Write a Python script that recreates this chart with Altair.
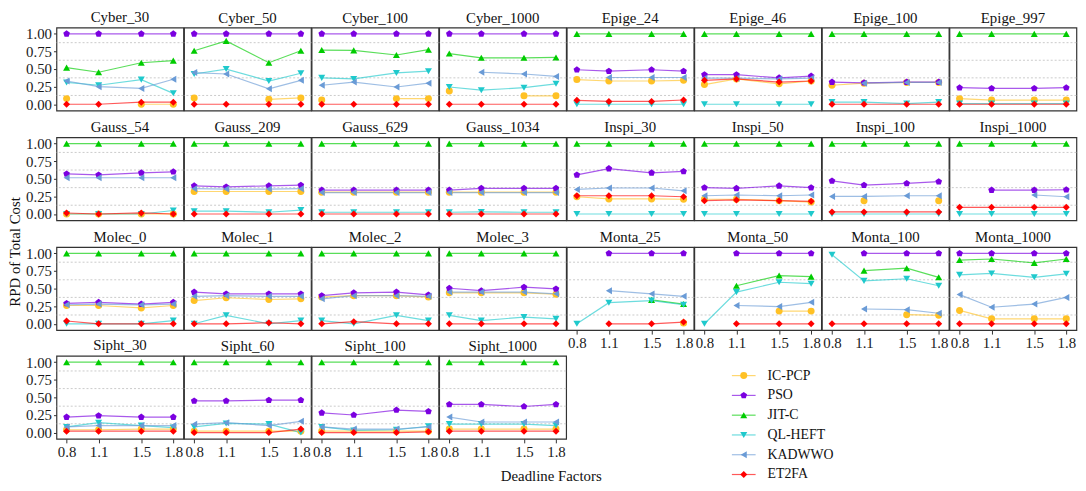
import altair as alt
import pandas as pd

FONT = "Liberation Serif"

panels = ["Cyber_30", "Cyber_50", "Cyber_100", "Cyber_1000",
          "Epige_24", "Epige_46", "Epige_100", "Epige_997",
          "Gauss_54", "Gauss_209", "Gauss_629", "Gauss_1034",
          "Inspi_30", "Inspi_50", "Inspi_100", "Inspi_1000",
          "Molec_0", "Molec_1", "Molec_2", "Molec_3",
          "Monta_25", "Monta_50", "Monta_100", "Monta_1000",
          "Sipht_30", "Sipht_60", "Sipht_100", "Sipht_1000"]
deadline = [0.8, 1.1, 1.5, 1.8]
series = ["IC-PCP", "PSO", "JIT-C", "QL-HEFT", "KADWWO", "ET2FA"]
colors = ["#FFC125", "#7B00E0", "#00CC00", "#1FC9CC", "#6A9BD6", "#FF0000"]
PENT = "M0,-1L0.951,-0.309L0.588,0.809L-0.588,0.809L-0.951,-0.309Z"
shapes = ["circle", PENT, "triangle-up", "triangle-down", "triangle-left", "diamond"]
y_ticks = [0.0, 0.25, 0.5, 0.75, 1.0]
grid_levels = [0.125, 0.375, 0.625, 0.875]

N = None
ic_pcp = [
    [0.08, N, 0.0, 0.0], [0.09, N, 0.07, 0.09], [0.06, N, 0.08, 0.08], [0.19, N, 0.12, 0.12],
    [0.35, 0.33, 0.33, 0.34], [0.28, 0.36, 0.29, 0.33], [0.27, 0.30, 0.31, 0.31], [0.08, 0.06, 0.06, 0.06],
    [0.0, 0.0, 0.0, 0.0], [0.32, 0.32, 0.32, 0.32], [0.31, 0.31, 0.31, 0.31], [0.31, 0.31, 0.31, 0.31],
    [0.245, 0.215, 0.215, 0.21], [0.21, 0.21, 0.19, 0.17], [N, 0.19, N, 0.19], [N, N, N, N],
    [0.26, 0.26, 0.225, 0.26], [0.33, 0.37, 0.345, 0.355], [0.38, 0.40, 0.40, 0.38], [0.44, 0.44, 0.44, 0.42],
    [N, N, N, 0.01], [N, N, 0.18, 0.18], [N, N, 0.13, 0.12], [0.19, 0.07, 0.07, 0.07],
    [0.04, 0.04, 0.05, 0.05], [0.02, 0.02, 0.02, 0.02], [0.02, 0.02, 0.02, 0.02], [0.05, 0.05, 0.05, 0.05],
]
pso = [
    [1, 1, 1, 1], [1, 1, 1, 1], [1, 1, 1, 1], [1, 1, 1, 1],
    [0.49, 0.47, 0.49, 0.47], [0.42, 0.42, 0.375, 0.40], [0.315, 0.305, 0.315, 0.315], [0.235, 0.225, 0.225, 0.235],
    [0.57, 0.555, 0.585, 0.60], [0.40, 0.385, 0.40, 0.41], [0.34, 0.34, 0.34, 0.34], [0.34, 0.365, 0.365, 0.365],
    [0.555, 0.645, 0.585, 0.605], [0.375, 0.365, 0.40, 0.375], [0.47, 0.41, 0.435, 0.46], [N, 0.34, 0.34, 0.345],
    [0.29, 0.305, 0.28, 0.305], [0.45, 0.425, 0.425, 0.425], [0.40, 0.44, 0.45, 0.41], [0.505, 0.47, 0.52, 0.495],
    [N, 1, 1, 1], [N, 1, 1, 1], [N, 1, 1, 1], [1, 1, 1, 1],
    [0.22, 0.24, 0.22, 0.22], [0.45, 0.45, 0.46, 0.46], [0.28, 0.25, 0.32, 0.30], [0.40, 0.40, 0.37, 0.40],
]
jit_c = [
    [0.52, 0.455, 0.59, 0.62], [0.76, 0.90, 0.59, 0.76], [0.77, 0.765, 0.70, 0.775], [0.72, 0.66, 0.66, 0.665],
    [1, 1, 1, 1], [1, 1, 1, 1], [1, 1, 1, 1], [1, 1, 1, 1],
    [1, 1, 1, 1], [1, 1, 1, 1], [1, 1, 1, 1], [1, 1, 1, 1],
    [1, 1, 1, 1], [1, 1, 1, 1], [1, 1, 1, 1], [1, 1, 1, 1],
    [1, 1, 1, 1], [1, 1, 1, 1], [1, 1, 1, 1], [1, 1, 1, 1],
    [N, N, 0.34, 0.28], [N, 0.54, 0.685, 0.67], [N, 0.755, 0.79, 0.66], [0.905, 0.92, 0.865, 0.92],
    [1, 1, 1, 1], [1, 1, 1, 1], [1, 1, 1, 1], [1, 1, 1, 1],
]
ql_heft = [
    [0.31, 0.27, 0.35, 0.155], [0.43, 0.50, 0.33, 0.44], [0.375, 0.36, 0.445, 0.47], [0.245, 0.20, 0.235, 0.29],
    [0.0, 0.0, 0.0, 0.0], [0.0, 0.0, 0.0, 0.0], [0.03, 0.03, 0.01, 0.03], [0.01, 0.01, 0.01, 0.01],
    [0.0, 0.0, 0.0, 0.05], [0.04, 0.04, 0.025, 0.055], [0.025, 0.025, 0.025, 0.025], [0.025, 0.03, 0.025, 0.025],
    [0.0, 0.0, 0.0, 0.0], [0.0, 0.0, 0.0, 0.0], [0.0, 0.0, 0.0, 0.0], [0.0, 0.0, 0.0, 0.0],
    [0.0, 0.0, 0.0, 0.045], [0.0, 0.12, 0.0, 0.045], [0.045, 0.0, 0.12, 0.045], [0.12, 0.045, 0.095, 0.07],
    [0.0, 0.30, 0.33, 0.27], [0.0, 0.45, 0.59, 0.57], [0.98, 0.61, 0.64, 0.54], [0.695, 0.715, 0.66, 0.71],
    [0.08, 0.14, 0.10, 0.07], [0.08, 0.13, 0.12, 0.0], [0.08, 0.03, 0.04, 0.09], [0.12, 0.12, 0.12, 0.10],
]
kadwwo = [
    [0.33, 0.25, 0.225, 0.355], [0.45, 0.43, 0.22, 0.34], [0.27, 0.315, 0.245, 0.30], [N, 0.455, 0.43, 0.395],
    [N, 0.38, 0.38, 0.38], [0.37, 0.37, 0.36, 0.37], [N, 0.30, 0.31, 0.31], [N, N, N, N],
    [0.515, 0.515, 0.515, 0.515], [0.36, 0.355, 0.355, 0.36], [0.305, 0.305, 0.305, 0.305], [0.305, 0.305, 0.305, 0.305],
    [0.35, 0.37, 0.37, 0.33], [0.26, 0.27, 0.26, 0.27], [0.25, 0.25, 0.26, 0.26], [N, N, 0.27, 0.245],
    [0.27, 0.28, 0.27, 0.28], [0.39, 0.40, 0.39, 0.39], [0.355, 0.40, 0.40, 0.39], [0.45, 0.45, 0.45, 0.425],
    [N, 0.47, 0.425, 0.39], [N, 0.26, 0.245, 0.305], [N, 0.21, 0.20, 0.15], [0.415, 0.235, 0.28, 0.375],
    [0.08, 0.10, 0.10, 0.10], [0.12, 0.14, 0.10, 0.16], [0.08, 0.05, 0.05, 0.08], [0.22, 0.15, 0.15, 0.15],
]
et2fa = [
    [0.0, 0.0, 0.03, 0.03], [0.0, 0.0, 0.0, 0.0], [0.0, 0.0, 0.0, 0.0], [0.0, 0.0, 0.0, 0.0],
    [0.056, 0.04, 0.04, 0.06], [0.34, 0.36, 0.315, 0.33], [0.0, 0.0, 0.0, 0.0], [0.0, 0.0, 0.0, 0.0],
    [0.015, 0.0, 0.015, 0.0], [0.0, 0.0, 0.0, 0.0], [0.0, 0.0, 0.0, 0.0], [0.0, 0.0, 0.0, 0.0],
    [0.26, 0.26, 0.26, 0.245], [0.19, 0.20, 0.19, 0.18], [0.03, 0.03, 0.03, 0.03], [0.095, 0.095, 0.095, 0.095],
    [0.04, 0.0, 0.0, 0.0], [0.0, 0.0, 0.015, 0.0], [0.0, 0.03, 0.0, 0.0], [0.0, 0.0, 0.0, 0.0],
    [N, 0.0, 0.0, 0.025], [N, 0.0, 0.0, 0.0], [0.0, 0.0, 0.0, 0.0], [0.0, 0.0, 0.0, 0.0],
    [0.02, 0.02, 0.02, 0.02], [0.0, 0.0, 0.0, 0.05], [0.0, 0.0, 0.0, 0.01], [0.02, 0.02, 0.02, 0.02],
]

values = {"IC-PCP": ic_pcp, "PSO": pso, "JIT-C": jit_c,
          "QL-HEFT": ql_heft, "KADWWO": kadwwo, "ET2FA": et2fa}

rows = []
for si, s in enumerate(series):
    for pi, p in enumerate(panels):
        for xi, x in enumerate(deadline):
            rows.append({"panel": p, "deadline": x, "series": s, "k": si,
                         "rpd": values[s][pi][xi]})
df = pd.DataFrame(rows)
grid_df = pd.DataFrame({"rpd": grid_levels})

color = alt.Color("series:N", scale=alt.Scale(domain=series, range=colors), legend=None)
shape = alt.Shape("series:N", scale=alt.Scale(domain=series, range=shapes), legend=None)
xs = alt.Scale(domain=[0.705, 1.895], nice=False, zero=False)
ys = alt.Scale(domain=[-0.09, 1.09], nice=False, zero=False)

PW, PH = 128.4, 84
RS = 5


def panel(name, show_y, show_x):
    d = df[df.panel == name]
    xax = alt.Axis(values=deadline, format=".1f", title=None, grid=False, domain=False,
                   tickSize=4, labelPadding=2, labelFlush=False, labelOverlap=False) if show_x else None
    yax = alt.Axis(values=y_ticks, format=".2f", title=None, grid=False, domain=False,
                   tickSize=3, labelPadding=2) if show_y else None
    X = alt.X("deadline:Q", scale=xs, axis=xax)
    Y = alt.Y("rpd:Q", scale=ys, axis=yax)
    grid = alt.Chart(grid_df).mark_rule(strokeDash=[2, 2], color="#c4c4c4", strokeWidth=0.9).encode(
        y=alt.Y("rpd:Q", scale=ys, axis=yax))
    lines = alt.Chart(d).mark_line(strokeWidth=1.2, opacity=0.65).encode(X, Y, color)
    pts = alt.Chart(d).mark_point(filled=True, size=50, opacity=1).encode(X, Y, color, shape)
    return alt.layer(grid, lines, pts).properties(
        width=PW, height=PH,
        title=alt.TitleParams(name, fontSize=15, font=FONT, fontWeight="normal",
                              offset=2, anchor="middle", color="#111111"))


leg_df = pd.DataFrame({"series": series})
ly = alt.Y("series:N", sort=series,
           scale=alt.Scale(type="point", domain=series, padding=1.07), axis=None)
leg_rule = alt.Chart(leg_df).mark_rule(strokeWidth=1.2, opacity=0.65).encode(
    y=ly, x=alt.value(167), x2=alt.value(191), color=color)
leg_pt = alt.Chart(leg_df).mark_point(filled=True, size=50, opacity=1).encode(
    y=ly, x=alt.value(179), color=color, shape=shape)
leg_tx = alt.Chart(leg_df).mark_text(align="left", baseline="middle", fontSize=14, font=FONT,
                                     color="#111111").encode(y=ly, x=alt.value(203), text="series:N")
legend = alt.layer(leg_rule, leg_pt, leg_tx).properties(
    width=4 * PW, height=140, view=alt.ViewBackground(strokeWidth=0))

row1 = alt.hconcat(*[panel(p, i == 0, False) for i, p in enumerate(panels[0:8])],
                   spacing=0, bounds="flush")
row2 = alt.hconcat(*[panel(p, i == 0, False) for i, p in enumerate(panels[8:16])],
                   spacing=0, bounds="flush")
row3 = alt.hconcat(*([panel(p, i == 0, False) for i, p in enumerate(panels[16:20])] +
                     [panel(p, False, True) for p in panels[20:24]]),
                   spacing=0, bounds="flush")
row4 = alt.hconcat(*([panel(p, i == 0, True) for i, p in enumerate(panels[24:28])] + [legend]),
                   spacing=0, bounds="flush")

top_rows = alt.vconcat(row1, row2, row3, spacing=RS)

grid_chart = alt.vconcat(top_rows, row4, spacing=RS - 20,
                         title=alt.TitleParams("Deadline Factors", orient="bottom", fontSize=15,
                                               font=FONT, fontWeight="normal", color="#111111",
                                               offset=6, anchor="middle", dy=-31))

chart = alt.vconcat(grid_chart, title=alt.TitleParams("RPD of Total Cost", orient="left", fontSize=15,
                                                     font=FONT, fontWeight="normal", color="#111111",
                                                     offset=2, anchor="middle")).configure(
    font=FONT, padding={"left": 0, "top": -2, "right": 0, "bottom": 0}
).configure_view(stroke="#333333", strokeWidth=1.2).configure_axis(
    labelFont=FONT, labelFontSize=15, labelColor="#1a1a1a", tickColor="#333333", domain=False)

chart.save("out.html", embed_options={"renderer": "svg", "actions": False})
